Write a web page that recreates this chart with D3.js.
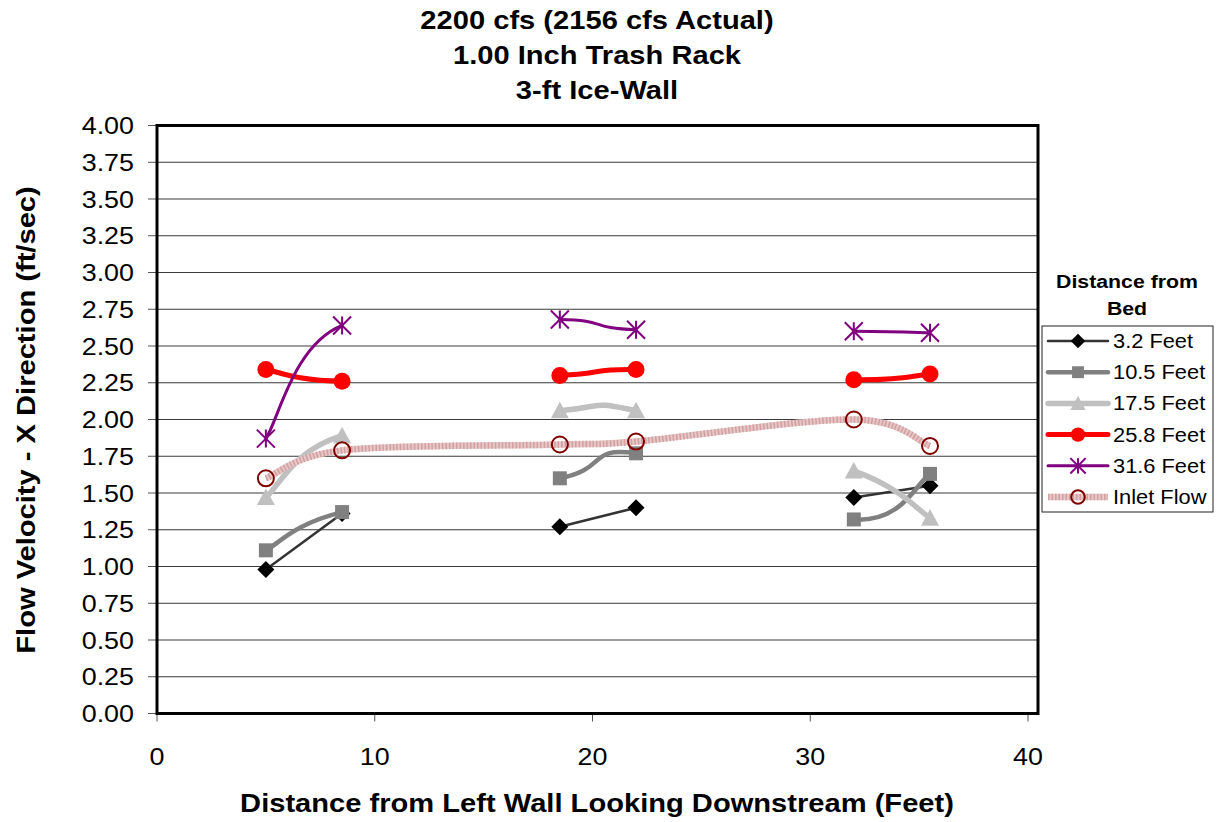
<!DOCTYPE html>
<html><head><meta charset="utf-8">
<script src="https://cdn.jsdelivr.net/npm/d3@7"></script>
<style>body{margin:0;background:#fff}</style>
</head><body><svg id="c" width="1217" height="822"></svg>
<script>
// ---- data ----
const xValues = [5, 8.5, 18.5, 22, 32, 35.5];
const seriesNames = ["3.2 Feet", "10.5 Feet", "17.5 Feet", "25.8 Feet", "31.6 Feet", "Inlet Flow"];
const v32   = [0.98, 1.36, 1.27, 1.40, 1.47, 1.55];
const v105  = [1.11, 1.37, 1.60, 1.77, 1.32, 1.63];
const v175  = [1.47, 1.89, 2.06, 2.06, 1.65, 1.33];
const v258  = [2.34, 2.26, 2.30, 2.34, 2.27, 2.31];
const v316  = [1.87, 2.64, 2.68, 2.61, 2.60, 2.59];
const vInlet= [1.60, 1.79, 1.83, 1.85, 2.00, 1.82];
const yTickValues = d3.range(0, 17).map(i => i * 0.25);
const xTickValues = [0, 10, 20, 30, 40];
const titleLines = ["2200 cfs (2156 cfs Actual)", "1.00 Inch Trash Rack", "3-ft Ice-Wall"];
const xTitle = "Distance from Left Wall Looking Downstream (Feet)";
const yTitle = "Flow Velocity - X Direction (ft/sec)";
const legendTitle = ["Distance from", "Bed"];

// ---- styles ----
const styles = [
  {color:"#333333", width:2.5, marker:"diamond", mfill:"#000", size:8.5, segs:[[0,1],[2,3],[4,5]], straight:true},
  {color:"#808080", width:4.5, marker:"square", mfill:"#808080", size:7, segs:[[0,1],[2,3],[4,5]]},
  {color:"#c0c0c0", width:5.5, marker:"triangle", mfill:"#c0c0c0", size:9, segs:[[0,1],[2,3],[4,5]]},
  {color:"#ff0000", width:5, marker:"circle", mfill:"#ff0000", size:8.5, segs:[[0,1],[2,3],[4,5]]},
  {color:"#800080", width:3, marker:"star", mfill:"none", size:9, segs:[[0,1],[2,3],[4,5]]},
  {color:"#e2bcbc", width:6.5, marker:"ocircle", mfill:"none", size:8, segs:[[0,5]], inlet:true}
];
const allValues = [v32, v105, v175, v258, v316, vInlet];

const SX = 1.12;
const FONT = "'Liberation Sans', Arial, sans-serif";
const svg = d3.select("#c");
const x = d3.scaleLinear().domain([0, 40]).range([157, 1028]);
const y = d3.scaleLinear().domain([0, 4]).range([713.5, 125.5]);
const plotL = 157, plotR = 1038, plotT = y(4), plotB = y(0);

function txt(px, py, s, size, weight, anchor, rot) {
  const g = svg.append("g").attr("transform",
    `translate(${px},${py})` + (rot ? ` rotate(${rot})` : "") + ` scale(${SX},1)`);
  g.append("text").attr("x", 0).attr("y", 0).attr("font-family", FONT)
    .attr("font-size", size).attr("font-weight", weight || "normal")
    .attr("text-anchor", anchor || "start").attr("fill", "#000").text(s);
}

// gridlines
svg.append("g").selectAll("line").data(yTickValues.filter(v => v > 0 && v < 4)).join("line")
  .attr("x1", plotL).attr("x2", plotR).attr("y1", d => y(d)).attr("y2", d => y(d))
  .attr("stroke", "#3a3a3a").attr("stroke-width", 1);

// axes ticks
svg.append("g").selectAll("line").data(yTickValues).join("line")
  .attr("x1", plotL - 9).attr("x2", plotL).attr("y1", d => y(d)).attr("y2", d => y(d))
  .attr("stroke", "#555").attr("stroke-width", 1);
svg.append("g").selectAll("line").data(xTickValues).join("line")
  .attr("x1", d => x(d)).attr("x2", d => x(d)).attr("y1", plotB).attr("y2", plotB + 8)
  .attr("stroke", "#555").attr("stroke-width", 1);

yTickValues.forEach(v => txt(134, y(v) + 8.5, v.toFixed(2), 24, "normal", "end"));
xTickValues.forEach(v => txt(x(v), 765, String(v), 24, "normal", "middle"));

// border
svg.append("rect").attr("x", plotL).attr("y", plotT).attr("width", plotR - plotL).attr("height", plotB - plotT)
  .attr("fill", "none").attr("stroke", "#000").attr("stroke-width", 3);

// smoothing (Excel-like Catmull-Rom, neighbours taken across gaps)
function smoothPath(pts, i0, i1) {
  const n = pts.length;
  let d = `M${pts[i0][0]},${pts[i0][1]}`;
  for (let i = i0; i < i1; i++) {
    const p0 = pts[Math.max(i - 1, 0)], p1 = pts[i], p2 = pts[i + 1], p3 = pts[Math.min(i + 2, n - 1)];
    const c1 = [p1[0] + (p2[0] - p0[0]) / 6, p1[1] + (p2[1] - p0[1]) / 6];
    const c2 = [p2[0] - (p3[0] - p1[0]) / 6, p2[1] - (p3[1] - p1[1]) / 6];
    d += `C${c1[0]},${c1[1]} ${c2[0]},${c2[1]} ${p2[0]},${p2[1]}`;
  }
  return d;
}
function straightPath(pts, i0, i1) {
  return d3.line()(pts.slice(i0, i1 + 1));
}

function drawMarker(g, st, cx, cy, scale) {
  const s = st.size * (scale || 1);
  if (st.marker === "diamond") {
    g.append("path").attr("d", `M${cx},${cy - s}L${cx + s},${cy}L${cx},${cy + s}L${cx - s},${cy}Z`).attr("fill", st.mfill);
  } else if (st.marker === "square") {
    g.append("rect").attr("x", cx - s).attr("y", cy - s).attr("width", 2 * s).attr("height", 2 * s).attr("fill", st.mfill);
  } else if (st.marker === "triangle") {
    g.append("path").attr("d", `M${cx},${cy - s}L${cx + s},${cy + s * 0.85}L${cx - s},${cy + s * 0.85}Z`).attr("fill", st.mfill);
  } else if (st.marker === "circle") {
    g.append("circle").attr("cx", cx).attr("cy", cy).attr("r", s).attr("fill", st.mfill);
  } else if (st.marker === "star") {
    g.append("path").attr("d",
      `M${cx - s},${cy - s}L${cx + s},${cy + s}M${cx - s},${cy + s}L${cx + s},${cy - s}M${cx},${cy - s}L${cx},${cy + s}`)
      .attr("stroke", st.color).attr("stroke-width", 2).attr("fill", "none");
  } else if (st.marker === "ocircle") {
    g.append("circle").attr("cx", cx).attr("cy", cy).attr("r", s).attr("fill", "none")
      .attr("stroke", "#800000").attr("stroke-width", 2);
  }
}

function styleLine(p, st) {
  p.attr("fill", "none").attr("stroke", st.color).attr("stroke-width", st.width).attr("stroke-linecap", "round");
}

allValues.forEach((vals, si) => {
  const st = styles[si];
  const g = svg.append("g");
  const pts = vals.map((v, i) => [x(xValues[i]), y(v)]);
  st.segs.forEach(([a, b]) => {
    const d = st.straight ? straightPath(pts, a, b) : smoothPath(pts, a, b);
    if (st.inlet) {
      g.append("path").attr("d", d).attr("fill", "none").attr("stroke", "#e6c6c6").attr("stroke-width", st.width);
      g.append("path").attr("d", d).attr("fill", "none").attr("stroke", "#d2a0a0").attr("stroke-width", st.width)
        .attr("stroke-dasharray", "1.5,2");
    } else {
      styleLine(g.append("path").attr("d", d), st);
    }
  });
  pts.forEach(p => drawMarker(g, st, p[0], p[1]));
});

// titles
titleLines.forEach((t, i) => txt(597, 29 + i * 35, t, 26, "bold", "middle"));
txt(597, 812, xTitle, 26, "bold", "middle");
txt(35, 420, yTitle, 26, "bold", "middle", -90);

// legend
txt(1127, 288, legendTitle[0], 19, "bold", "middle");
txt(1127, 315, legendTitle[1], 19, "bold", "middle");
svg.append("rect").attr("x", 1042).attr("y", 326).attr("width", 171).attr("height", 186)
  .attr("fill", "#fff").attr("stroke", "#222").attr("stroke-width", 1);
seriesNames.forEach((name, i) => {
  const st = styles[i];
  const cy = 341 + i * 31.2;
  const g = svg.append("g");
  const d = `M1048,${cy}L1108,${cy}`;
  if (st.inlet) {
    g.append("path").attr("d", d).attr("stroke", "#e6c6c6").attr("stroke-width", st.width);
    g.append("path").attr("d", d).attr("stroke", "#d2a0a0").attr("stroke-width", st.width).attr("stroke-dasharray", "1.5,2");
  } else {
    styleLine(g.append("path").attr("d", d), st);
  }
  drawMarker(g, st, 1078, cy, 0.85);
  txt(1113, cy + 7, name, 19.5, "normal", "start");
});
</script></body></html>
